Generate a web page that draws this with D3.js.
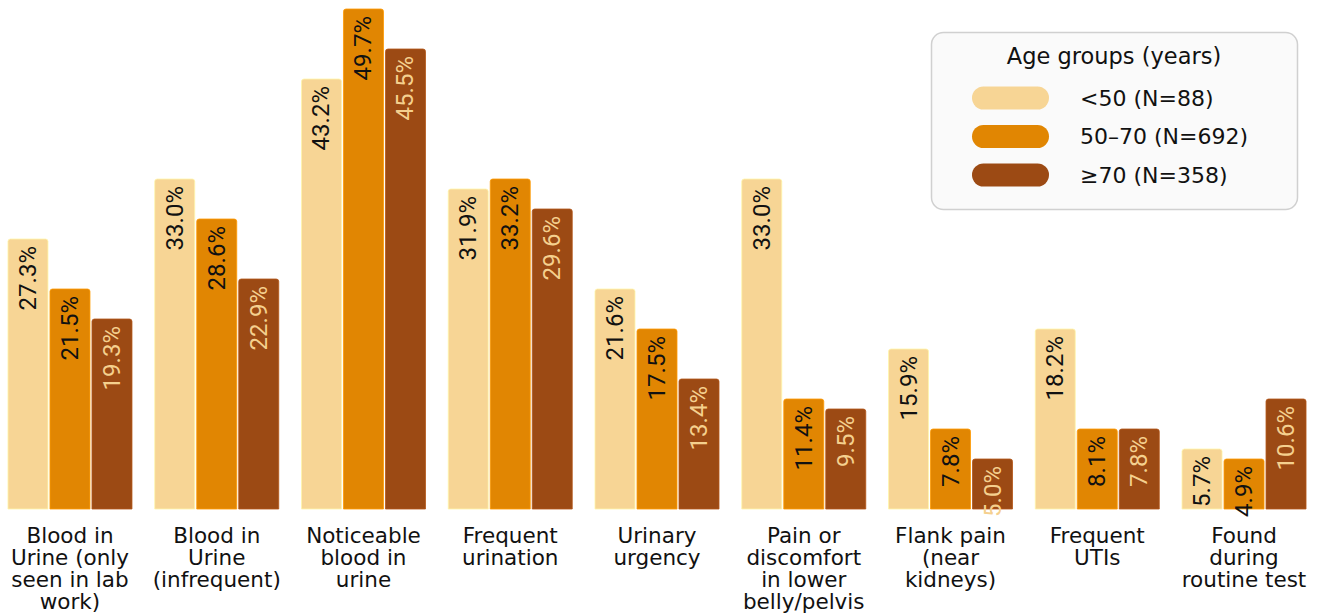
<!DOCTYPE html>
<html><head><meta charset="utf-8">
<script src="https://cdn.jsdelivr.net/npm/d3@7"></script>
<style>
html,body{margin:0;padding:0;background:#fff;}
svg{display:block;}
</style></head>
<body><svg id="c" width="1320" height="615"></svg>
<script>
const categories = [
  ["Blood in","Urine (only","seen in lab","work)"],
  ["Blood in","Urine","(infrequent)"],
  ["Noticeable","blood in","urine"],
  ["Frequent","urination"],
  ["Urinary","urgency"],
  ["Pain or","discomfort","in lower","belly/pelvis"],
  ["Flank pain","(near","kidneys)"],
  ["Frequent","UTIs"],
  ["Found","during","routine test"]
];
const seriesNames = ["<50 (N=88)","50\u201370 (N=692)","\u226570 (N=358)"];
const under50 = [27.3,33.0,43.2,31.9,21.6,33.0,15.9,18.2,5.7];
const age50to70 = [21.5,28.6,49.7,33.2,17.5,11.4,7.8,8.1,4.9];
const over70 = [19.3,22.9,45.5,29.6,13.4,9.5,5.0,7.8,10.6];
const colors = ["#F7D595","#E18602","#9C4A14"];
const labelColors = ["#111","#111","#F5D08E"];
const legendTitle = "Age groups (years)";

const svg = d3.select("#c");
const seriesVals = [under50, age50to70, over70];
const catIdx = d3.range(categories.length);
const x0 = d3.scaleBand().domain(catIdx).range([-3.4,1317.4]).paddingInner(0.155).paddingOuter(0.0775);
const x1 = d3.scaleBand().domain([0,1,2]).range([0,x0.bandwidth()]).paddingInner(2/42);
const y = d3.scaleLinear().domain([0,50]).range([509,9]);

const fontCat = "'DejaVu Sans', sans-serif";
const fontNum = "Roboto, sans-serif";

const data = [];
catIdx.forEach(c => seriesVals.forEach((arr,s) => data.push({c,s,v:arr[c]})));

function barPath(x,yt,w,h,r){
  return `M${x},${yt+h}V${yt+r}Q${x},${yt} ${x+r},${yt}H${x+w-r}Q${x+w},${yt} ${x+w},${yt+r}V${yt+h}Z`;
}
const g = svg.append("g");
g.selectAll("path.bar").data(data).join("path")
  .attr("class","bar")
  .attr("d", d => {
    const yt = y(Math.round(d.v));
    return barPath(x0(d.c)+x1(d.s), yt, x1.bandwidth(), y(0)-yt, 2.5);
  })
  .attr("fill", d => colors[d.s])
  .attr("stroke", d => d3.color(colors[d.s]).brighter(0.4))
  .attr("stroke-width", 0.8);

g.selectAll("text.val").data(data).join("text")
  .attr("class","val")
  .attr("transform", d => {
    const cx = x0(d.c)+x1(d.s)+x1.bandwidth()/2;
    const yt = y(Math.round(d.v)) + 7;
    return `translate(${cx},${yt}) rotate(-90)`;
  })
  .attr("text-anchor","end")
  .attr("dominant-baseline","central")
  .attr("font-family", fontNum)
  .attr("font-size", 24)
  .attr("fill", d => labelColors[d.s])
  .text(d => d.v.toFixed(1) + "%");

// category labels
const cl = svg.append("g");
catIdx.forEach(c => {
  categories[c].forEach((line,i) => {
    cl.append("text")
      .attr("x", x0(c)+x0.bandwidth()/2)
      .attr("y", 543 + i*22)
      .attr("text-anchor","middle")
      .attr("font-family", fontCat)
      .attr("font-size", 21.5)
      .attr("fill","#111")
      .text(line);
  });
});

// legend
const lg = svg.append("g");
lg.append("rect").attr("x",931.5).attr("y",32.5).attr("width",366).attr("height",177)
  .attr("rx",12).attr("fill","#FAFAFA").attr("stroke","#D0D0D0").attr("stroke-width",1.5);
lg.append("text").attr("x",1114).attr("y",64).attr("text-anchor","middle")
  .attr("font-family",fontCat).attr("font-size",22.5).attr("fill","#111").text(legendTitle);
const ly = d3.scalePoint().domain([0,1,2]).range([98,175]);
seriesNames.forEach((n,i) => {
  lg.append("rect").attr("x",972).attr("y",ly(i)-11.5).attr("width",77).attr("height",23)
    .attr("rx",11.5).attr("fill",colors[i]);
  lg.append("text").attr("x",1080).attr("y",ly(i)).attr("dominant-baseline","central")
    .attr("font-family",fontCat).attr("font-size",22).attr("fill","#111").text(n);
});
</script></body></html>
